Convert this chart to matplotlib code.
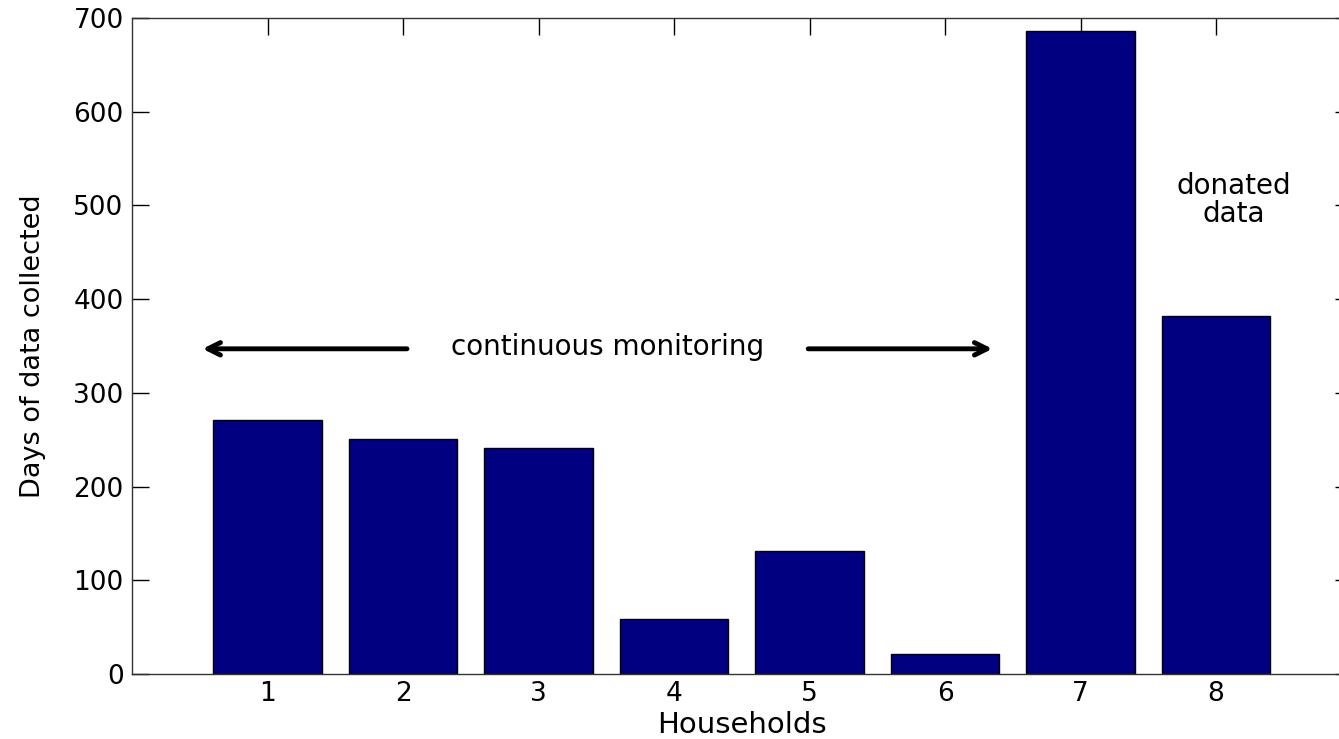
import matplotlib
matplotlib.use('Agg')
import matplotlib.pyplot as plt

# Plot parameters
plt.rcParams['font.family'] = ['DejaVu Sans']
plt.rcParams['text.color'] = 'black'

households = [1, 2, 3, 4, 5, 6, 7, 8]
days_collected = [271, 251, 241, 59, 131, 21, 686, 382]
y_ticks = [0, 100, 200, 300, 400, 500, 600, 700]

fig = plt.figure(figsize=(13.39, 7.39), dpi=100)
# axes runs a little past the right edge, as in the cropped original
ax = fig.add_axes([132 / 1339, 65 / 739, 1219.5 / 1339, 656 / 739])

ax.bar(households, days_collected, width=0.8, color='#000080',
       edgecolor='black', linewidth=1)
ax.set_axisbelow(True)  # bars hide the inward bottom ticks

ax.set_xlim(0, 9)
ax.set_ylim(0, 700)
ax.set_xticks(households)
ax.set_yticks(y_ticks)

ax.tick_params(axis='both', which='both', direction='in', length=12,
               width=1, labelsize=19, top=True, right=True)
ax.tick_params(axis='y', pad=6)
ax.tick_params(axis='x', pad=5)
for pos in ['top', 'bottom', 'left', 'right']:
    ax.spines[pos].set_linewidth(1)
    ax.spines[pos].set_color('#333333')

ax.set_xlabel('Households', fontsize=21, labelpad=3)
ax.set_ylabel('Days of data collected', fontsize=19.5, labelpad=20)

# annotations
arrow_style = dict(arrowstyle='->,head_length=0.9,head_width=0.45', lw=3.5,
                   color='black')
ax.annotate('', xy=(0.5, 347), xytext=(2.05, 347), arrowprops=arrow_style)
ax.annotate('', xy=(6.37, 347), xytext=(4.97, 347), arrowprops=arrow_style)
ax.text(3.51, 349, 'continuous monitoring', fontsize=20, ha='center',
        va='center')
ax.text(8.13, 506, 'donated\ndata', fontsize=20, ha='center', va='center',
        linespacing=1.0)

plt.savefig('out.png', dpi=100)
